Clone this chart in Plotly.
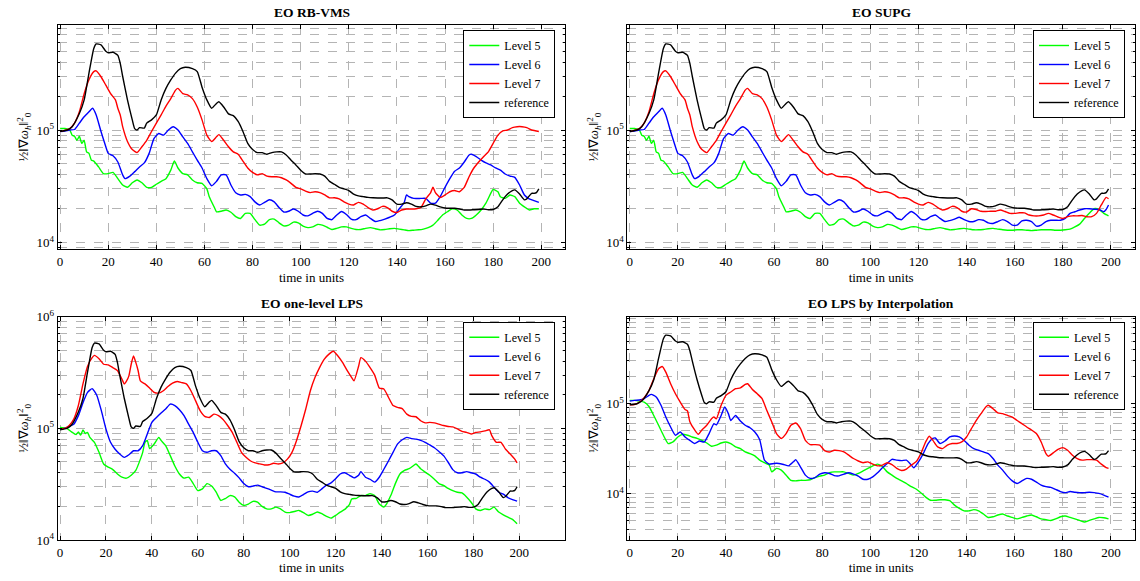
import plotly.graph_objects as go

# ---------------- data (time in units, value of 1/2||grad omega_h||_0^2) ----------------
reference = [(0,9.7e4),(3,1.0e5),(5,1.07e5),(8,1.4e5),(10,1.85e5),(12,3.2e5),(14,5.3e5),(15,5.8e5),(17,5.7e5),
             (19,5.0e5),(20,4.85e5),(22,4.9e5),(24,4.6e5),(25,3.9e5),(26,3.0e5),(28,1.85e5),(30,1.23e5),(31,1.03e5),
             (32,1.0e5),(33,1.05e5),(35,1.04e5),(36,1.15e5),(38,1.23e5),(40,1.36e5),(42,1.85e5),(44,2.34e5),(46,2.78e5),
             (48,3.2e5),(50,3.5e5),(52,3.6e5),(55,3.5e5),(57,3.3e5),(59,2.4e5),(61,1.85e5),(63,1.56e5),(65,1.72e5),
             (66,1.78e5),(68,1.6e5),(70,1.39e5),(72,1.34e5),(74,1.19e5),(76,9.7e4),(78,7.6e4),(80,6.7e4),(82,6.3e4),
             (84,6.3e4),(86,6.1e4),(88,6.3e4),(90,6.4e4),(92,6.4e4),(94,6.0e4),(96,5.4e4),(98,4.9e4),(100,4.4e4),
             (102,4.07e4),(104,4.07e4),(106,4.1e4),(108,4.07e4),(110,3.9e4),(112,3.5e4),(114,3.3e4),(116,3.1e4),
             (118,3.0e4),(120,2.9e4),(122,2.7e4),(124,2.6e4),(126,2.56e4),(128,2.52e4),(130,2.5e4),(132,2.49e4),
             (134,2.49e4),(136,2.5e4),(138,2.4e4),(140,2.2e4),(142,2.2e4),(144,2.26e4),(146,2.2e4),(148,2.1e4),
             (150,2.08e4),(152,2.12e4),(154,2.2e4),(156,2.15e4),(158,2.08e4),(160,2.03e4),(162,2.02e4),(164,2.02e4),
             (166,1.99e4),(168,1.95e4),(170,1.95e4),(172,1.96e4),(174,1.97e4),(176,1.99e4),(178,1.96e4),(180,1.97e4),
             (182,2.08e4),(184,2.4e4),(186,2.7e4),(188,2.9e4),(189,2.94e4),(191,2.7e4),(193,2.4e4),(194,2.45e4),
             (196,2.74e4),(197,2.74e4),(198,2.78e4),(199,3.0e4)]

# --- RB-VMS / SUPG (identical up to t~140) ---
early_l7 = [(0,9.7e4),(4,1.03e5),(6,1.15e5),(8,1.45e5),(10,2.1e5),(12,2.8e5),(14,3.3e5),(15,3.35e5),(17,2.97e5),
            (19,2.5e5),(21,2.1e5),(23,1.85e5),(24,1.56e5),(25,1.36e5),(26,1.07e5),(28,7.9e4),(30,6.7e4),(32,6.3e4),
            (34,7.1e4),(36,8.1e4),(38,9.7e4),(40,1.15e5),(42,1.36e5),(44,1.63e5),(46,1.9e5),(48,2.26e5),(49,2.34e5),
            (51,2.1e5),(53,2.05e5),(55,1.9e5),(57,1.6e5),(59,1.23e5),(61,9.0e4),(63,7.9e4),(65,8.7e4),(66,9.1e4),
            (68,8.1e4),(70,7.1e4),(72,6.4e4),(74,6.1e4),(76,5.3e4),(78,4.6e4),(80,4.2e4),(82,4.0e4),(84,4.1e4),
            (86,3.9e4),(88,3.85e4),(90,3.85e4),(92,3.77e4),(94,3.6e4),(96,3.36e4),(98,3.1e4),(100,3.0e4),(102,2.87e4),
            (104,2.78e4),(106,2.83e4),(108,2.78e4),(110,2.65e4),(112,2.5e4),(114,2.5e4),(116,2.45e4),(118,2.3e4),
            (120,2.2e4),(122,2.16e4),(124,2.28e4),(126,2.2e4),(128,2.05e4),(130,1.95e4),(132,2.0e4),(134,2.1e4),
            (136,2.05e4),(138,1.9e4)]
rbvms_l7_late = [(140,1.85e4),(142,1.95e4),(144,1.99e4),(146,1.99e4),(148,2.0e4),(150,2.05e4),(152,2.45e4),
                 (154,2.77e4),(155,3.1e4),(156,2.78e4),(158,2.52e4),(160,2.65e4),(162,2.83e4),(164,2.9e4),(166,2.83e4),
                 (168,3.1e4),(170,3.85e4),(172,4.6e4),(174,5.2e4),(176,5.8e4),(178,6.4e4),(180,7.6e4),(182,9.0e4),
                 (184,9.8e4),(186,1.0e5),(188,1.05e5),(190,1.07e5),(192,1.07e5),(194,1.05e5),(196,1.0e5),(198,9.8e4),
                 (199,9.7e4)]
supg_l7_late = [(140,1.87e4),(142,2.0e4),(144,1.97e4),(146,1.9e4),(148,1.89e4),(150,1.9e4),(152,1.9e4),(154,1.95e4),
                (156,1.89e4),(158,1.82e4),(160,1.82e4),(162,1.84e4),(164,1.84e4),(166,1.76e4),(168,1.73e4),(170,1.73e4),
                (172,1.76e4),(174,1.82e4),(176,1.76e4),(178,1.69e4),(180,1.64e4),(182,1.7e4),(184,1.73e4),(186,1.73e4),
                (188,1.74e4),(190,1.7e4),(192,1.7e4),(194,1.82e4),(196,2.16e4),(198,2.52e4),(199,2.45e4)]

early_l6 = [(0,9.7e4),(2,9.8e4),(4,1.0e5),(6,1.01e5),(8,1.15e5),(10,1.31e5),(12,1.45e5),(13.5,1.56e5),(15,1.36e5),
            (17,9.7e4),(19,7.1e4),(20,6.2e4),(22,5.9e4),(24,5.2e4),(26,4.0e4),(27,3.7e4),(29,3.9e4),(31,4.27e4),
            (33,4.7e4),(35,5.1e4),(37,6.2e4),(39,8.4e4),(41,9.3e4),(43,9.0e4),(45,1.0e5),(47,1.07e5),(49,1.0e5),
            (51,8.7e4),(53,7.6e4),(55,6.4e4),(57,5.4e4),(59,4.6e4),(61,3.7e4),(63,3.2e4),(65,3.5e4),(67,4.0e4),
            (69,4.0e4),(71,3.25e4),(73,2.77e4),(75,2.65e4),(77,2.68e4),(79,2.56e4),(81,2.3e4),(83,2.16e4),(85,2.28e4),
            (87,2.4e4),(89,2.3e4),(91,2.05e4),(93,1.87e4),(95,1.9e4),(97,1.99e4),(99,1.9e4),(101,1.76e4),(103,1.73e4),
            (105,1.82e4),(107,1.9e4),(109,1.82e4),(111,1.64e4),(113,1.6e4),(115,1.76e4),(117,1.89e4),(119,1.78e4),
            (121,1.62e4),(123,1.6e4),(125,1.7e4),(127,1.76e4),(129,1.64e4),(131,1.54e4),(133,1.57e4),(135,1.62e4),
            (137,1.68e4)]
rbvms_l6_late = [(139,1.76e4),(141,2.0e4),(143,2.26e4),(144,2.65e4),(145,2.56e4),(147,2.47e4),(150,2.47e4),
                 (152,2.47e4),(154,2.24e4),(156,2.24e4),(158,2.56e4),(160,3.1e4),(162,3.7e4),(164,4.3e4),(166,4.6e4),
                 (168,5.2e4),(170,6.0e4),(171,6.1e4),(173,5.8e4),(175,5.4e4),(177,5.1e4),(179,4.9e4),(181,4.6e4),
                 (183,4.4e4),(185,4.07e4),(187,3.9e4),(189,3.8e4),(191,3.25e4),(193,2.65e4),(195,2.45e4),(197,2.36e4),
                 (199,2.28e4)]
supg_l6_late = [(139,1.6e4),(141,1.54e4),(143,1.54e4),(145,1.6e4),(147,1.58e4),(149,1.5e4),(151,1.48e4),(153,1.54e4),
                (155,1.6e4),(157,1.54e4),(159,1.43e4),(161,1.43e4),(163,1.56e4),(165,1.58e4),(167,1.54e4),(169,1.4e4),
                (171,1.43e4),(173,1.54e4),(175,1.58e4),(177,1.58e4),(179,1.58e4),(181,1.64e4),(183,1.82e4),(185,1.88e4),
                (187,1.95e4),(189,2.0e4),(191,2.0e4),(193,1.98e4),(195,1.97e4),(197,1.88e4),(198,1.97e4),(199,2.16e4)]

early_l5 = [(0,1.03e5),(2,1.03e5),(4,1.0e5),(5,9.0e4),(6,8.8e4),(7,8.1e4),(8,8.8e4),(9,7.6e4),(10,8.1e4),(11,6.4e4),
            (12,6.2e4),(13,5.4e4),(14,5.3e4),(16,4.7e4),(18,4.1e4),(20,4.1e4),(22,4.2e4),(24,3.7e4),(26,3.25e4),
            (28,3.1e4),(30,3.4e4),(32,3.6e4),(34,3.4e4),(36,3.1e4),(38,3.1e4),(40,3.3e4),(42,3.5e4),(44,3.7e4),
            (46,4.4e4),(47.5,5.3e4),(49,4.6e4),(51,4.1e4),(53,4.0e4),(55,3.6e4),(57,3.4e4),(59,3.36e4),(61,3.0e4),
            (62,2.56e4),(64,2.08e4),(65,1.88e4),(67,1.9e4),(69,1.95e4),(71,1.86e4),(73,1.7e4),(75,1.64e4),(77,1.82e4),
            (79,1.82e4),(81,1.6e4),(83,1.43e4),(85,1.46e4),(87,1.6e4),(89,1.62e4),(91,1.5e4),(93,1.41e4),(95,1.43e4),
            (97,1.52e4),(99,1.5e4),(101,1.4e4),(103,1.36e4),(105,1.38e4),(107,1.45e4),(109,1.43e4),(111,1.37e4),
            (113,1.31e4),(115,1.34e4),(117,1.38e4),(119,1.38e4),(121,1.34e4),(123,1.31e4),(125,1.31e4),(127,1.34e4),
            (129,1.36e4),(131,1.33e4),(133,1.3e4),(135,1.31e4),(137,1.33e4),(139,1.34e4)]
rbvms_l5_late = [(141,1.32e4),(143,1.3e4),(145,1.28e4),(147,1.29e4),(149,1.3e4),(151,1.32e4),(153,1.36e4),
                 (155,1.43e4),(157,1.58e4),(159,1.76e4),(161,1.88e4),(163,2.0e4),(165,1.95e4),(167,1.76e4),
                 (169,1.64e4),(171,1.64e4),(173,1.76e4),(175,1.95e4),(177,2.24e4),(179,2.74e4),(180,2.97e4),
                 (182,2.83e4),(183,2.56e4),(185,2.47e4),(187,2.65e4),(189,2.56e4),(191,2.24e4),(193,2.08e4),
                 (195,1.95e4),(197,2.0e4),(199,2.0e4)]
supg_l5_late = [(141,1.32e4),(143,1.3e4),(145,1.3e4),(147,1.31e4),(149,1.33e4),(151,1.34e4),(153,1.32e4),(155,1.3e4),
                (157,1.29e4),(159,1.29e4),(161,1.3e4),(163,1.3e4),(165,1.29e4),(167,1.28e4),(169,1.29e4),(171,1.3e4),
                (173,1.3e4),(175,1.3e4),(177,1.29e4),(179,1.29e4),(181,1.3e4),(183,1.32e4),(185,1.38e4),(187,1.46e4),
                (189,1.64e4),(191,1.82e4),(193,2.0e4),(195,1.97e4),(197,1.82e4),(199,1.73e4)]

# --- one-level LPS ---
lps_l7 = [(0,9.9e4),(2,1.0e5),(4,1.06e5),(6,1.21e5),(8,1.6e5),(10,2.5e5),(12,3.6e5),(14,4.3e5),(15,4.5e5),(17,4.2e5),
          (19,3.75e5),(21,3.7e5),(23,3.5e5),(25,3.3e5),(27,2.75e5),(28,2.5e5),(29,2.66e5),(30,2.95e5),(31,3.75e5),
          (32,4.45e5),(33,3.9e5),(34,3.3e5),(35,2.66e5),(37,2.5e5),(39,2.3e5),(41,2.1e5),(43,2.07e5),(45,2.17e5),
          (47,2.37e5),(49,2.54e5),(51,2.63e5),(53,2.57e5),(55,2.5e5),(57,2.17e5),(59,1.77e5),(61,1.44e5),(63,1.28e5),
          (65,1.25e5),(67,1.34e5),(69,1.3e5),(71,1.2e5),(73,1.06e5),(75,9.2e4),(77,7.5e4),(79,6.1e4),(81,5.5e4),
          (83,5.1e4),(85,4.9e4),(87,4.8e4),(89,4.7e4),(91,4.72e4),(93,4.87e4),(95,4.8e4),(97,4.9e4),(99,5.3e4),
          (101,6.1e4),(103,7.8e4),(105,1.06e5),(107,1.49e5),(109,2.17e5),(111,2.85e5),(113,3.5e5),(115,4.15e5),
          (117,4.6e5),(119,4.9e5),(121,4.45e5),(123,3.9e5),(125,3.3e5),(127,2.85e5),(128,2.66e5),(130,3.6e5),
          (131,4.3e5),(133,4.0e5),(135,3.5e5),(137,3.0e5),(139,2.3e5),(141,2.25e5),(143,1.9e5),(145,1.6e5),
          (147,1.54e5),(149,1.5e5),(151,1.34e5),(153,1.28e5),(155,1.27e5),(157,1.17e5),(159,1.12e5),(161,1.13e5),
          (163,1.12e5),(165,1.09e5),(167,1.06e5),(169,1.04e5),(171,1.03e5),(173,9.9e4),(175,9.4e4),(177,9.2e4),
          (179,8.9e4),(181,9.2e4),(183,9.3e4),(185,9.5e4),(187,9.7e4),(188,8.6e4),(190,7.5e4),(192,7.5e4),
          (194,6.5e4),(196,5.9e4),(198,5.3e4),(199,4.9e4)]
lps_l6 = [(0,9.9e4),(2,1.0e5),(4,1.04e5),(6,1.09e5),(8,1.3e5),(10,1.7e5),(12,2.1e5),(14,2.27e5),(16,1.98e5),(18,1.44e5),
          (20,9.9e4),(22,7.5e4),(24,6.5e4),(26,5.9e4),(28,5.5e4),(30,5.8e4),(32,6.3e4),(34,6.3e4),(36,7.0e4),(38,8.9e4),
          (40,1.13e5),(42,1.25e5),(44,1.37e5),(46,1.49e5),(48,1.65e5),(50,1.6e5),(52,1.47e5),(54,1.3e5),(56,1.09e5),
          (58,9.2e4),(60,7.5e4),(62,6.3e4),(64,6.1e4),(66,6.3e4),(68,6.3e4),(70,5.7e4),(72,4.8e4),(74,4.3e4),
          (76,3.97e4),(78,3.6e4),(80,3.2e4),(82,3.0e4),(84,3.04e4),(86,3.1e4),(88,3.0e4),(90,2.9e4),(92,2.8e4),
          (94,2.7e4),(96,2.7e4),(98,2.68e4),(100,2.57e4),(102,2.47e4),(104,2.43e4),(106,2.55e4),(108,2.7e4),
          (110,2.74e4),(112,2.68e4),(114,2.87e4),(116,3.1e4),(118,3.25e4),(120,3.54e4),(122,3.9e4),(124,4.0e4),
          (126,3.8e4),(128,3.6e4),(130,3.8e4),(131,4.1e4),(133,3.65e4),(135,3.5e4),(137,3.3e4),(139,3.65e4),
          (141,4.3e4),(143,5.1e4),(145,6.1e4),(147,7.25e4),(149,7.9e4),(151,8.3e4),(153,8.1e4),(155,8.0e4),
          (157,7.8e4),(159,7.5e4),(161,7.1e4),(163,6.7e4),(165,6.2e4),(167,5.7e4),(169,4.97e4),(171,4.27e4),
          (173,4.0e4),(175,4.0e4),(177,4.1e4),(179,4.0e4),(181,3.9e4),(183,3.65e4),(185,3.5e4),(187,3.3e4),
          (189,2.97e4),(191,2.68e4),(193,2.57e4),(195,2.4e4),(197,2.3e4),(199,2.23e4)]
lps_l5 = [(0,1.02e5),(3,1.0e5),(5,9.3e4),(7,8.8e4),(8,9.3e4),(9,8.7e4),(10,9.7e4),(11,9.0e4),(12,9.2e4),(13,8.3e4),
          (15,7.5e4),(17,6.1e4),(19,4.8e4),(21,4.5e4),(23,4.27e4),(25,3.9e4),(27,3.65e4),(29,3.58e4),(31,3.8e4),
          (33,4.2e4),(35,5.3e4),(36,6.1e4),(37,7.5e4),(38,7.8e4),(39,6.6e4),(41,7.25e4),(43,8.3e4),(44,7.8e4),
          (46,7.0e4),(48,5.7e4),(50,4.6e4),(52,3.9e4),(54,3.58e4),(56,3.65e4),(58,3.2e4),(60,2.77e4),(62,2.87e4),
          (64,3.2e4),(66,3.04e4),(68,2.68e4),(70,2.26e4),(72,2.35e4),(74,2.5e4),(76,2.43e4),(78,2.18e4),(80,2.04e4),
          (82,2.1e4),(84,2.22e4),(86,2.18e4),(88,2.0e4),(90,1.9e4),(92,1.9e4),(94,1.97e4),(96,1.9e4),(98,1.78e4),
          (100,1.76e4),(102,1.8e4),(104,1.84e4),(106,1.76e4),(108,1.66e4),(110,1.7e4),(112,1.78e4),(114,1.72e4),
          (116,1.63e4),(118,1.57e4),(120,1.66e4),(122,1.78e4),(124,1.88e4),(126,2.07e4),(127,2.33e4),(129,2.36e4),
          (131,2.5e4),(133,2.5e4),(135,2.6e4),(137,2.5e4),(139,2.1e4),(141,1.97e4),(142,2.07e4),(144,2.5e4),
          (146,3.2e4),(148,3.9e4),(150,4.2e4),(152,4.35e4),(154,4.65e4),(155,4.8e4),(157,4.35e4),(159,4.05e4),
          (161,3.8e4),(163,3.5e4),(165,3.2e4),(167,3.08e4),(169,2.9e4),(171,2.77e4),(173,2.68e4),(175,2.64e4),
          (177,2.43e4),(179,2.18e4),(181,1.9e4),(183,1.84e4),(185,1.9e4),(187,1.87e4),(189,1.97e4),(191,1.78e4),
          (193,1.68e4),(195,1.6e4),(197,1.53e4),(199,1.4e4)]

# --- LPS by interpolation ---
ip_l7 = [(0,9.7e4),(2,9.8e4),(4,1.04e5),(6,1.17e5),(8,1.4e5),(10,1.9e5),(12,2.45e5),(13.5,2.6e5),(15,2.25e5),
         (17,1.67e5),(19,1.29e5),(21,1.04e5),(23,8.6e4),(24,8.3e4),(25,6.3e4),(27,5.1e4),(28.5,4.56e4),(30,5.1e4),
         (32,5.75e4),(34,6.8e4),(35,7.1e4),(36,6.8e4),(38,9.6e4),(40,1.24e5),(42,1.35e5),(44,1.47e5),(46,1.5e5),
         (48,1.64e5),(49,1.67e5),(51,1.44e5),(53,1.29e5),(55,1.14e5),(57,8.4e4),(59,6.3e4),(61,4.65e4),(63,4.1e4),
         (65,4.65e4),(67,5.75e4),(69,6.1e4),(71,5.27e4),(73,3.9e4),(75,3.5e4),(77,3.5e4),(79,3.45e4),(81,3.0e4),
         (83,2.9e4),(85,3.03e4),(87,3.0e4),(89,2.9e4),(91,2.67e4),(93,2.45e4),(95,2.3e4),(97,2.2e4),(99,2.25e4),
         (101,2.12e4),(103,2.03e4),(105,2.07e4),(107,2.2e4),(109,2.1e4),(111,1.9e4),(113,1.8e4),(115,1.87e4),
         (117,2.07e4),(119,2.25e4),(121,2.78e4),(123,3.75e4),(124.5,4.34e4),(126,3.9e4),(128,3.3e4),(130,3.16e4),
         (132,3.45e4),(134,3.6e4),(136,3.6e4),(138,3.75e4),(140,4.26e4),(142,5.27e4),(144,6.5e4),(146,7.75e4),
         (148,9.2e4),(149,9.6e4),(151,8.8e4),(153,7.9e4),(155,7.75e4),(157,7.4e4),(159,7.1e4),(161,6.5e4),
         (163,6.0e4),(165,5.5e4),(167,5.1e4),(169,4.65e4),(171,3.75e4),(173,2.78e4),(174,2.6e4),(176,2.83e4),
         (178,3.1e4),(180,3.24e4),(182,3.03e4),(184,2.67e4),(186,2.45e4),(188,2.35e4),(190,2.38e4),(192,2.38e4),
         (194,2.35e4),(196,2.12e4),(198,1.94e4),(199,1.9e4)]
ip_l6 = [(0,1.07e5),(2,1.09e5),(4,1.1e5),(6,1.14e5),(8,1.24e5),(9,1.27e5),(11,1.19e5),(13,9.6e4),(15,7.1e4),(17,5.5e4),
         (19,4.45e4),(21,4.84e4),(23,4.26e4),(25,3.9e4),(27,3.6e4),(29,3.84e4),(31,3.75e4),(33,4.65e4),(35,6.0e4),
         (36,5.8e4),(38,7.4e4),(39.5,9.2e4),(41,7.75e4),(42,6.5e4),(44,7.4e4),(46,6.4e4),(48,5.75e4),(50,5.4e4),
         (52,4.84e4),(54,4.0e4),(56,2.35e4),(58,2.12e4),(60,2.16e4),(62,2.16e4),(64,2.1e4),(66,2.03e4),(68,2.25e4),
         (69,2.38e4),(71,1.97e4),(73,1.6e4),(75,1.47e4),(77,1.5e4),(79,1.64e4),(81,1.7e4),(83,1.67e4),(85,1.58e4),
         (87,1.57e4),(89,1.64e4),(91,1.7e4),(93,1.64e4),(95,1.56e4),(97,1.44e4),(99,1.44e4),(101,1.53e4),(103,1.7e4),
         (105,1.93e4),(107,2.16e4),(109,2.4e4),(111,2.35e4),(113,2.32e4),(115,2.35e4),(117,2.07e4),(118,1.93e4),
         (120,2.25e4),(122,2.78e4),(124,3.6e4),(126,4.1e4),(127,4.15e4),(129,3.6e4),(131,3.84e4),(133,4.26e4),
         (135,4.37e4),(137,4.26e4),(139,3.9e4),(141,3.45e4),(143,3.16e4),(145,3.03e4),(147,2.9e4),(149,2.78e4),
         (151,2.45e4),(153,2.07e4),(155,1.82e4),(157,1.56e4),(159,1.38e4),(161,1.29e4),(163,1.38e4),(165,1.47e4),
         (167,1.44e4),(169,1.34e4),(171,1.24e4),(173,1.19e4),(175,1.17e4),(177,1.11e4),(179,1.05e4),(181,1.02e4),
         (183,1.05e4),(185,1.03e4),(187,1.02e4),(189,1.02e4),(191,1.03e4),(193,1.02e4),(195,1.0e4),(197,9.6e3),
         (199,9.1e3)]
ip_l5 = [(0,1.09e5),(2,1.09e5),(4,1.07e5),(6,1.04e5),(8,9.3e4),(10,7.4e4),(12,5.75e4),(14,4.45e4),(16,3.6e4),
         (18,3.75e4),(20,4.26e4),(22,4.56e4),(24,4.45e4),(26,4.26e4),(28,4.1e4),(30,3.9e4),(32,3.65e4),(34,3.36e4),
         (36,3.45e4),(38,3.65e4),(40,3.75e4),(42,3.6e4),(44,3.3e4),(46,3.16e4),(48,2.9e4),(50,2.78e4),(52,2.62e4),
         (54,2.35e4),(56,2.2e4),(58,2.07e4),(59,1.74e4),(61,1.9e4),(63,1.82e4),(65,1.6e4),(67,1.4e4),(69,1.38e4),
         (71,1.4e4),(73,1.4e4),(75,1.42e4),(77,1.5e4),(79,1.56e4),(81,1.6e4),(83,1.7e4),(85,1.74e4),(87,1.74e4),
         (89,1.74e4),(91,1.67e4),(93,1.6e4),(95,1.67e4),(97,1.78e4),(99,1.9e4),(101,2.03e4),(103,2.12e4),(105,2.0e4),
         (107,1.74e4),(109,1.6e4),(111,1.47e4),(113,1.38e4),(115,1.29e4),(117,1.19e4),(119,1.12e4),(121,1.02e4),
         (123,9.1e3),(125,8.4e3),(127,8.4e3),(129,8.5e3),(131,8.5e3),(133,8.3e3),(135,7.4e3),(137,6.8e3),(139,6.4e3),
         (141,6.4e3),(143,6.6e3),(145,6.4e3),(147,5.9e3),(149,5.4e3),(151,5.5e3),(153,5.75e3),(155,5.9e3),(157,5.6e3),
         (159,5.4e3),(161,5.2e3),(163,5.4e3),(165,5.6e3),(167,5.75e3),(169,5.5e3),(171,5.2e3),(173,5.1e3),(175,5.0e3),
         (177,5.2e3),(179,5.5e3),(181,5.6e3),(183,5.4e3),(185,5.2e3),(187,5.0e3),(189,4.8e3),(191,5.0e3),(193,5.2e3),
         (195,5.4e3),(197,5.35e3),(199,5.2e3)]

panel_titles = ["EO RB-VMS", "EO SUPG", "EO one-level LPS", "EO LPS by Interpolation"]
series_names = ["Level 5", "Level 6", "Level 7", "reference"]
series_colors = ["#00ff00", "#0000ff", "#ff0000", "#000000"]
x_ticks = [0, 20, 40, 60, 80, 100, 120, 140, 160, 180, 200]

panel_series = [
    [early_l5 + rbvms_l5_late, early_l6 + rbvms_l6_late, early_l7 + rbvms_l7_late, reference],
    [early_l5 + supg_l5_late, early_l6 + supg_l6_late, early_l7 + supg_l7_late, reference],
    [lps_l5, lps_l6, lps_l7, reference],
    [ip_l5, ip_l6, ip_l7, reference],
]

# ---------------- layout geometry (page pixels) ----------------
W, H = 1140, 581
frames = [  # left, right, top, bottom
    (57.7, 565.3, 25.0, 249.3),
    (627.3, 1135.0, 25.0, 249.3),
    (57.7, 565.3, 316.7, 540.0),
    (627.3, 1135.0, 316.7, 540.0),
]
def fx(p):
    return p / W
def fy(p):
    return 1 - p / H

x_ranges = [[-1, 210], [-1, 210], [-1, 220], [-1, 210]]
y_ranges = [[3.941, 5.932], [3.941, 5.932], [4.0, 6.0], [3.481, 5.970]]

SERIF = "Liberation Serif"
GRID = "#b4b4b4"

fig = go.Figure()
layout = dict(width=W, height=H, margin=dict(l=0, r=0, t=0, b=0, autoexpand=False),
              paper_bgcolor="white", plot_bgcolor="white",
              font=dict(family=SERIF, size=13, color="black"), annotations=[])

minor_vals = [m * 10 ** k for k in range(3, 6) for m in range(2, 10)]

for i in range(4):
    n = i + 1
    xs = "x" if n == 1 else f"x{n}"
    ys = "y" if n == 1 else f"y{n}"
    lg = "legend" if n == 1 else f"legend{n}"
    for name, color, pts in zip(series_names, series_colors, panel_series[i]):
        t = [p[0] for p in pts]
        v = [p[1] for p in pts]
        fig.add_trace(go.Scatter(x=t, y=v, mode="lines", name=name,
                                 line=dict(color=color, width=1.4, shape="spline", smoothing=0.5),
                                 xaxis=xs, yaxis=ys, legend=lg, hoverinfo="skip"))
    l, r, tp, bt = frames[i]
    layout["xaxis" if n == 1 else f"xaxis{n}"] = dict(
        domain=[fx(l), fx(r)], anchor=ys, range=x_ranges[i], automargin=False,
        tickmode="array", tickvals=x_ticks, ticks="inside", ticklen=4, tickcolor="black",
        showline=True, mirror="ticks", linecolor="black", linewidth=1,
        showgrid=True, gridcolor=GRID, griddash="dash", gridwidth=0.8, zeroline=False,
        tickfont=dict(family=SERIF, size=13),
        title=dict(text="time in units", font=dict(family=SERIF, size=13), standoff=4))
    layout["yaxis" if n == 1 else f"yaxis{n}"] = dict(
        domain=[fy(bt), fy(tp)], anchor=xs, type="log", range=y_ranges[i], automargin=False,
        tickmode="array", tickvals=[1e3, 1e4, 1e5, 1e6],
        ticktext=["10<sup>3</sup>", "10<sup>4</sup>", "10<sup>5</sup>", "10<sup>6</sup>"],
        ticks="inside", ticklen=4, tickcolor="black",
        showline=True, mirror="ticks", linecolor="black", linewidth=1,
        showgrid=True, gridcolor=GRID, griddash="dash", gridwidth=0.8, zeroline=False,
        minor=dict(tickmode="array", tickvals=minor_vals, ticks="inside", ticklen=2, tickcolor="black",
                   showgrid=True, gridcolor=GRID, griddash="dash", gridwidth=0.8),
        tickfont=dict(family=SERIF, size=13),
        title=dict(text="½‖∇<i>ω</i><sub><i>h</i></sub>‖<sup>2</sup><sub>0</sub>",
                   font=dict(family=SERIF, size=13), standoff=4))
    layout[lg] = dict(x=fx(r - 10), y=fy(tp + 5), xanchor="right", yanchor="top",
                      bgcolor="white", bordercolor="black", borderwidth=1,
                      font=dict(family=SERIF, size=12), tracegroupgap=0, itemwidth=30)
    layout["annotations"].append(dict(
        text=f"<b>{panel_titles[i]}</b>", xref="paper", yref="paper",
        x=fx((l + r) / 2), y=fy(tp - 13), xanchor="center", yanchor="middle",
        showarrow=False, font=dict(family=SERIF, size=13.5)))

fig.update_layout(**layout)
# remove the browser's default 8px page margin so the figure sits at the page origin
fig.write_html("out.html", config={"displayModeBar": False},
               post_script="document.body.style.margin='0px';")
